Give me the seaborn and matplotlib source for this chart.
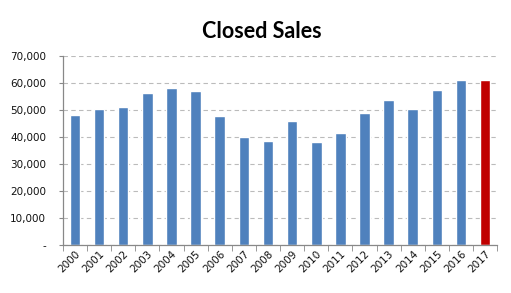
import matplotlib
matplotlib.use("Agg")
import matplotlib.pyplot as plt
import seaborn as sns
import pandas as pd
import numpy as np
from matplotlib.ticker import FuncFormatter, FixedLocator

years = ["2000", "2001", "2002", "2003", "2004", "2005", "2006", "2007", "2008",
         "2009", "2010", "2011", "2012", "2013", "2014", "2015", "2016", "2017"]
sales = [48200, 50400, 51100, 56400, 58200, 57000, 47800, 40000, 38500,
         45900, 38200, 41500, 48900, 53700, 50400, 57400, 61100, 61100]
highlight = ["base"] * 17 + ["current"]

df = pd.DataFrame({"year": years, "sales": sales, "kind": highlight})

sns.set_style("white")
plt.rcParams["font.family"] = ["DejaVu Sans"]

fig = plt.figure(figsize=(5.11, 2.93), dpi=100)
ax = fig.add_axes([0.123, 0.164, 0.850, 0.645])

sns.barplot(data=df, x="year", y="sales", hue="kind",
            palette={"base": "#4F81BD", "current": "#C00000"},
            width=0.44, dodge=False, legend=False, ax=ax, saturation=1)

ax.set_ylim(0, 70000)
ax.set_xlim(-0.5, len(years) - 0.5)
ax.set_yticks(np.arange(0, 70001, 10000))
ax.yaxis.set_major_formatter(FuncFormatter(lambda v, p: "-" if v == 0 else f"{int(v):,}"))
ax.grid(axis="y", color="#BBBBBB", linestyle=(0, (4, 3)), linewidth=0.8)
ax.set_axisbelow(True)

for s in ["top", "right"]:
    ax.spines[s].set_visible(False)
for s in ["left", "bottom"]:
    ax.spines[s].set_color("#888888")
    ax.spines[s].set_linewidth(0.9)

ax.set_xlabel("")
ax.set_ylabel("")
ax.tick_params(axis="y", labelsize=7.5, length=3, color="#888888", labelcolor="#111111",
               pad=9, direction="out", left=True)
ax.tick_params(axis="x", which="major", labelsize=7.5, length=0, pad=3, bottom=True,
               labelcolor="#111111")
ax.xaxis.set_minor_locator(FixedLocator(np.arange(-0.5, len(years), 1.0)))
ax.tick_params(axis="x", which="minor", length=4, color="#888888", direction="out", bottom=True)

fig.text(0.513, 0.894, "Closed Sales", ha="center", va="center", color="black",
         fontsize=15.5, fontweight="bold", family=["Lato", "DejaVu Sans"])

fig.canvas.draw()
for lbl in ax.get_xticklabels():
    lbl.set_rotation(45)
    lbl.set_ha("right")
    lbl.set_rotation_mode("anchor")
    lbl.set_fontfamily("DejaVu Sans")
for lbl in ax.get_yticklabels():
    lbl.set_fontfamily("DejaVu Sans")

fig.savefig("out.png", dpi=100)
